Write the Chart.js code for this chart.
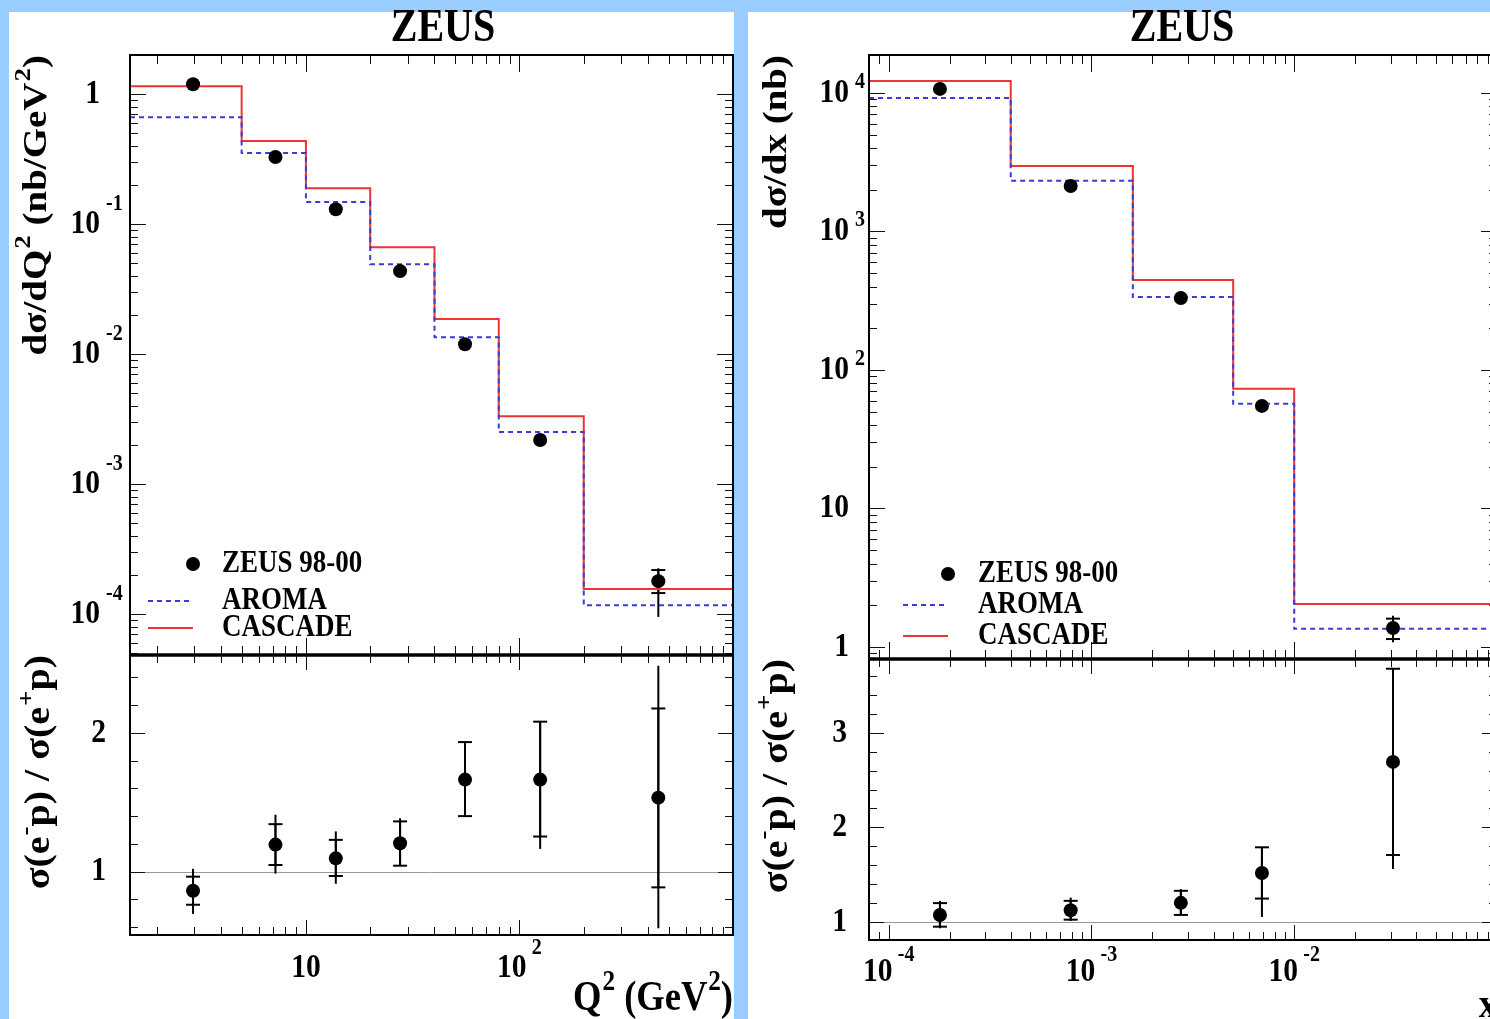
<!DOCTYPE html>
<html><head><meta charset="utf-8">
<script src="https://cdn.jsdelivr.net/npm/chart.js@4.4.1/dist/chart.umd.min.js"></script>
<style>
html,body{margin:0;padding:0;width:1490px;height:1019px;overflow:hidden;background:#99ccff;}
.panel{position:absolute;background:#fff;}
canvas{position:absolute;left:0;top:0;}
</style></head><body>
<div class="panel" style="left:9px;top:12px;width:725px;height:1020px"></div>
<div class="panel" style="left:748px;top:12px;width:780px;height:1020px"></div>
<canvas id="cQ2top" width="1520" height="1019"></canvas>
<canvas id="cQ2ratio" width="1520" height="1019"></canvas>
<canvas id="cXtop" width="1520" height="1019"></canvas>
<canvas id="cXratio" width="1520" height="1019"></canvas>
<script>
// ================= DATA =================
// Q^2 distribution (left panel)
const q2Edges    = [1.5, 5, 10, 20, 40, 80, 200, 1000];
const q2Centers  = [2.96, 7.2, 13.8, 27.6, 55.6, 125, 447];
const q2Data     = [1.19, 0.328, 0.130, 0.0435, 0.0119, 0.00218, 1.79e-4];
const q2DataStatLo = [null, null, null, null, null, null, 1.45e-4];
const q2DataStatHi = [null, null, null, null, null, null, 2.18e-4];
const q2DataTotLo  = [null, null, null, null, null, null, 9.5e-5];
const q2DataTotHi  = [null, null, null, null, null, null, 2.25e-4];
const q2Aroma    = [0.665, 0.352, 0.148, 0.0492, 0.0135, 0.00251, 1.17e-4];
const q2Cascade  = [1.15, 0.435, 0.189, 0.0665, 0.0186, 0.00333, 1.56e-4];
const q2Ratio       = [0.863, 1.195, 1.096, 1.205, 1.663, 1.663, 1.533];
const q2RatioStatLo = [0.762, 1.048, 0.969, 1.043, 1.400, 1.253, 0.887];
const q2RatioStatHi = [0.964, 1.342, 1.229, 1.362, 1.933, 2.080, 2.175];
const q2RatioTotLo  = [0.696, 0.986, 0.913, 1.043, 1.400, 1.164, 0.593];
const q2RatioTotHi  = [1.020, 1.410, 1.290, 1.385, 1.933, 2.080, 2.482];

// x distribution (right panel)
const xEdges    = [0.00008, 0.0004, 0.0016, 0.005, 0.01, 0.1];
const xCenters  = [1.79e-4, 7.9e-4, 2.76e-3, 6.93e-3, 0.0307];
const xData     = [10700, 2130, 331, 55, 1.37];
const xDataStatLo = [null, null, null, null, 1.14];
const xDataStatHi = [null, null, null, null, 1.60];
const xDataTotLo  = [null, null, null, null, 1.08];
const xDataTotHi  = [null, null, null, null, 1.68];
const xAroma    = [9200, 2320, 336, 56.9, 1.35];
const xCascade  = [12200, 2970, 447, 73, 2.04];
const xRatio       = [1.074, 1.124, 1.202, 1.517, 2.692];
const xRatioStatLo = [0.950, 1.024, 1.074, 1.247, 1.708];
const xRatioStatHi = [1.199, 1.223, 1.329, 1.789, 3.677];
const xRatioTotLo  = [0.933, 1.010, 1.074, 1.053, 1.560];
const xRatioTotHi  = [1.223, 1.258, 1.347, 1.789, 3.677];

// tick labels
const q2TopYTickVals   = [1, 0.1, 0.01, 0.001, 0.0001];
const q2TopYTickLabels = ['1', '10^{-1}', '10^{-2}', '10^{-3}', '10^{-4}'];
const q2RatioYTickVals   = [1, 2];
const q2RatioYTickLabels = ['1', '2'];
const q2XTickVals   = [10, 100];
const q2XTickLabels = ['10', '10^{2}'];
const xTopYTickVals   = [1, 10, 100, 1000, 10000];
const xTopYTickLabels = ['1', '10', '10^{2}', '10^{3}', '10^{4}'];
const xRatioYTickVals   = [1, 2, 3];
const xRatioYTickLabels = ['1', '2', '3'];
const xXTickVals   = [1e-4, 1e-3, 1e-2];
const xXTickLabels = ['10^{-4}', '10^{-3}', '10^{-2}'];

const seriesNames = ['ZEUS 98-00', 'AROMA', 'CASCADE'];
const panelTitle = 'ZEUS';
const q2YTitle = 'dσ/dQ^{2} (nb/GeV^{2})';
const xYTitle = 'dσ/dx (nb)';
const ratioTitle = 'σ(e^{-}p) / σ(e^{+}p)';
const q2XTitle = 'Q^{2} (GeV^{2})';
const xXTitle = 'x';

// ================= STYLE / HELPERS =================
const W = 1520, H = 1019;
const SX = 0.87;
const FONT = '"Liberation Serif","Times New Roman",serif';
const BLUE = '#3b3bd8';
const RED = '#ee3333';

function parseRich(s){
  const segs=[]; const re=/\^\{([^}]*)\}/g; let last=0, m;
  while((m=re.exec(s))){ if(m.index>last) segs.push({t:s.slice(last,m.index),sup:false}); segs.push({t:m[1],sup:true}); last=re.lastIndex; }
  if(last<s.length) segs.push({t:s.slice(last),sup:false});
  return segs;
}
function drawRich(ctx, s, x, y, o){
  const size=o.size, sup=o.supSize||Math.round(size*0.68), rise=(o.rise!=null?o.rise:size*0.42), gap=o.gap||1;
  const segs=parseRich(s);
  ctx.save();
  ctx.translate(x,y);
  if(o.rot){ ctx.rotate(o.rot); ctx.scale(1,SX); } else ctx.scale(SX,1);
  ctx.textBaseline='middle'; ctx.textAlign='left'; ctx.fillStyle='#000';
  let w=0;
  const ws=segs.map(sg=>{ ctx.font=`bold ${sg.sup?sup:size}px ${FONT}`; const ww=ctx.measureText(sg.t).width+(sg.sup?gap:0); w+=ww; return ww; });
  let cx = o.align==='right' ? -w : (o.align==='center' ? -w/2 : 0);
  segs.forEach((sg,i)=>{ ctx.font=`bold ${sg.sup?sup:size}px ${FONT}`; ctx.fillText(sg.t, cx+(sg.sup?gap:0), sg.sup?-rise:0); cx+=ws[i]; });
  ctx.restore();
}
// y label: base right-aligned at xr, exponent after it
function drawYLabel(ctx, s, xr, y, o){
  const segs=parseRich(s);
  const base=segs[0].t, exp=segs[1]?segs[1].t:null;
  ctx.save(); ctx.translate(xr,y); ctx.scale(SX,1);
  ctx.textBaseline='middle'; ctx.fillStyle='#000';
  ctx.font=`bold ${o.size}px ${FONT}`; ctx.textAlign='right'; ctx.fillText(base, 0, 0);
  if(exp!=null){ ctx.font=`bold ${o.supSize}px ${FONT}`; ctx.textAlign='left'; ctx.fillText(exp, o.gap/SX, -o.rise); }
  ctx.restore();
}
function logTicks(min,max){
  const out=[];
  for(let n=Math.floor(Math.log10(min))-1;n<=Math.ceil(Math.log10(max));n++){
    for(let k=1;k<=9;k++){ const v=k*Math.pow(10,n); if(v>=min*0.9999 && v<=max*1.0001) out.push({v, major:k===1}); }
  }
  return out;
}
function linTicks(min,max,step){
  const out=[];
  for(let i=Math.ceil(min/step-1e-9); i*step<=max+1e-9; i++){ const v=i*step; out.push({v, major:Math.abs(v-Math.round(v))<1e-6}); }
  return out;
}
function stepData(edges, vals){ return edges.map((e,i)=>({x:e, y:vals[Math.min(i, vals.length-1)]})); }
function pts(xs, ys){ return xs.map((x,i)=>({x, y:ys[i]})); }

function rootPlugin(spec){
  return {
    id:'root_'+spec.name,
    beforeDatasetsDraw(chart){
      const ctx=chart.ctx, a=chart.chartArea, xs=chart.scales.x, ys=chart.scales.y;
      ctx.save();
      if(spec.refLine!=null){
        const py=Math.round(ys.getPixelForValue(spec.refLine))+0.5;
        ctx.strokeStyle='#9a9a9a'; ctx.lineWidth=1;
        ctx.beginPath(); ctx.moveTo(a.left,py); ctx.lineTo(a.right,py); ctx.stroke();
      }
      if(spec.errs){
        const e=spec.errs; ctx.strokeStyle='#000'; ctx.lineWidth=2;
        e.x.forEach((xv,i)=>{
          if(e.totLo[i]==null) return;
          const px=xs.getPixelForValue(xv);
          ctx.beginPath(); ctx.moveTo(px, ys.getPixelForValue(e.totLo[i])); ctx.lineTo(px, ys.getPixelForValue(e.totHi[i])); ctx.stroke();
          ctx.beginPath(); ctx.moveTo(px, ys.getPixelForValue(e.statLo[i])); ctx.lineTo(px, ys.getPixelForValue(e.statHi[i])); ctx.stroke();
          [e.statLo[i], e.statHi[i]].forEach(v=>{ const py=ys.getPixelForValue(v); ctx.beginPath(); ctx.moveTo(px-7,py); ctx.lineTo(px+7,py); ctx.stroke(); });
        });
      }
      ctx.restore();
    },
    afterDraw(chart){
      const ctx=chart.ctx, a=chart.chartArea, xs=chart.scales.x, ys=chart.scales.y;
      ctx.save();
      // ticks
      ctx.strokeStyle='#111'; ctx.lineWidth=1;
      const xt = spec.xType==='logarithmic' ? logTicks(spec.xMin,spec.xMax) : linTicks(spec.xMin,spec.xMax,spec.xStep);
      const yt = spec.yType==='logarithmic' ? logTicks(spec.yMin,spec.yMax) : linTicks(spec.yMin,spec.yMax,spec.yStep);
      ctx.beginPath();
      xt.forEach(t=>{ const px=Math.round(xs.getPixelForValue(t.v))+0.5; const L=t.major?spec.tx[0]:spec.tx[1];
        ctx.moveTo(px,a.bottom); ctx.lineTo(px,a.bottom-L); ctx.moveTo(px,a.top); ctx.lineTo(px,a.top+L); });
      yt.forEach(t=>{ const py=Math.round(ys.getPixelForValue(t.v))+0.5; const L=t.major?spec.ty[0]:spec.ty[1];
        ctx.moveTo(a.left,py); ctx.lineTo(a.left+L,py); ctx.moveTo(a.right,py); ctx.lineTo(a.right-L,py); });
      ctx.stroke();
      // frame
      ctx.strokeStyle='#000'; ctx.lineWidth=2;
      ctx.strokeRect(a.left, a.top, a.right-a.left, a.bottom-a.top);
      if(spec.thickBottom){ ctx.lineWidth=3.5; ctx.beginPath(); ctx.moveTo(a.left-1,a.bottom); ctx.lineTo(a.right+1,a.bottom); ctx.stroke(); }
      // y labels
      if(spec.yLabels){ const L=spec.yLabels; L.vals.forEach((v,i)=>drawYLabel(ctx, L.texts[i], a.left-L.off, ys.getPixelForValue(v), L)); }
      // x labels
      if(spec.xLabels){ const L=spec.xLabels; L.vals.forEach((v,i)=>drawRich(ctx, L.texts[i], xs.getPixelForValue(v), a.bottom+L.off, {size:L.size, supSize:L.supSize, rise:L.rise, gap:L.gap, align:'center'})); }
      // texts
      (spec.texts||[]).forEach(t=>drawRich(ctx, t.t, t.x, t.y, t));
      // legend
      if(spec.legend){
        const lg=spec.legend, dsets=chart.data.datasets;
        lg.rows.forEach((y,i)=>{
          const ds=dsets[i];
          if(ds.showLine===false){
            ctx.fillStyle=ds.pointBackgroundColor; ctx.beginPath(); ctx.arc(lg.x1, y, ds.pointRadius, 0, Math.PI*2); ctx.fill();
          } else {
            ctx.save(); ctx.strokeStyle=ds.borderColor; ctx.lineWidth=ds.borderWidth; ctx.setLineDash(ds.borderDash||[]);
            ctx.beginPath(); ctx.moveTo(lg.x0,y); ctx.lineTo(lg.x1,y); ctx.stroke(); ctx.restore();
          }
          drawRich(ctx, ds.label, lg.tx, y, {size:lg.size, align:'left'});
        });
      }
      ctx.restore();
    }
  };
}

function makeChart(id, spec, datasets){
  const a=spec.area;
  return new Chart(document.getElementById(id), {
    type:'line',
    data:{datasets},
    options:{
      responsive:false, animation:false, devicePixelRatio:1, events:[],
      layout:{autoPadding:false, padding:{left:a.l, top:a.t, right:W-a.r, bottom:H-a.b}},
      scales:{
        x:{type:spec.xType, min:spec.xMin, max:spec.xMax, display:false, bounds:'data'},
        y:{type:spec.yType, min:spec.yMin, max:spec.yMax, display:false, bounds:'data'}
      },
      plugins:{legend:{display:false}, tooltip:{enabled:false}, title:{display:false}}
    },
    plugins:[rootPlugin(spec)]
  });
}
function dataSet(xv, yv){ return {label:seriesNames[0], data:pts(xv,yv), showLine:false, pointRadius:7, pointHoverRadius:7, pointBackgroundColor:'#000', pointBorderWidth:0, borderColor:'#000'}; }
function aromaSet(edges, v){ return {label:seriesNames[1], data:stepData(edges,v), stepped:'before', borderColor:BLUE, borderWidth:2, borderDash:[5,4], pointRadius:0, fill:false}; }
function cascadeSet(edges, v){ return {label:seriesNames[2], data:stepData(edges,v), stepped:'before', borderColor:RED, borderWidth:2, pointRadius:0, fill:false}; }

// ================= LEFT PANEL =================
makeChart('cQ2top', {
  name:'q2top', area:{l:130,t:55,r:733,b:655},
  xType:'logarithmic', xMin:1.5, xMax:1000, yType:'logarithmic', yMin:4.84e-5, yMax:2.0,
  tx:[17,9], ty:[16,8], thickBottom:true,
  errs:{x:q2Centers, statLo:q2DataStatLo, statHi:q2DataStatHi, totLo:q2DataTotLo, totHi:q2DataTotHi},
  yLabels:{vals:q2TopYTickVals, texts:q2TopYTickLabels, off:30, size:34, supSize:23, rise:20, gap:6},
  texts:[
    {t:panelTitle, x:443, y:29, size:46, align:'center'},
    {t:q2YTitle, x:37, y:55, size:39, align:'right', rot:-Math.PI/2, rise:15}
  ],
  legend:{rows:[564,601,628], x0:148, x1:193, tx:222, size:31}
}, [dataSet(q2Centers,q2Data), aromaSet(q2Edges,q2Aroma), cascadeSet(q2Edges,q2Cascade)]);

makeChart('cQ2ratio', {
  name:'q2ratio', area:{l:130,t:655,r:733,b:935},
  xType:'logarithmic', xMin:1.5, xMax:1000, yType:'linear', yMin:0.544, yMax:2.56, yStep:0.2,
  tx:[15,8], ty:[15,8], refLine:1,
  errs:{x:q2Centers, statLo:q2RatioStatLo, statHi:q2RatioStatHi, totLo:q2RatioTotLo, totHi:q2RatioTotHi},
  yLabels:{vals:q2RatioYTickVals, texts:q2RatioYTickLabels, off:24, size:34, supSize:23, rise:20, gap:6},
  xLabels:{vals:q2XTickVals, texts:q2XTickLabels, off:33, size:34, supSize:23, rise:20, gap:6},
  texts:[
    {t:ratioTitle, x:40, y:655, size:40, align:'right', rot:-Math.PI/2, rise:15},
    {t:q2XTitle, x:733, y:999, size:42, align:'right', rise:16}
  ]
}, [dataSet(q2Centers,q2Ratio)]);

// ================= RIGHT PANEL =================
makeChart('cXtop', {
  name:'xtop', area:{l:869,t:55,r:1497,b:659},
  xType:'logarithmic', xMin:0.00008, xMax:0.1, yType:'logarithmic', yMin:0.818, yMax:18800,
  tx:[17,9], ty:[16,8], thickBottom:true,
  errs:{x:xCenters, statLo:xDataStatLo, statHi:xDataStatHi, totLo:xDataTotLo, totHi:xDataTotHi},
  yLabels:{vals:xTopYTickVals, texts:xTopYTickLabels, off:20, size:34, supSize:23, rise:11, gap:6},
  texts:[
    {t:panelTitle, x:1182, y:29, size:46, align:'center'},
    {t:xYTitle, x:777, y:55, size:39, align:'right', rot:-Math.PI/2, rise:15}
  ],
  legend:{rows:[574,605,636], x0:903, x1:948, tx:978, size:31}
}, [dataSet(xCenters,xData), aromaSet(xEdges,xAroma), cascadeSet(xEdges,xCascade)]);

makeChart('cXratio', {
  name:'xratio', area:{l:869,t:659,r:1497,b:940},
  xType:'logarithmic', xMin:0.00008, xMax:0.1, yType:'linear', yMin:0.809, yMax:3.78, yStep:0.2,
  tx:[15,8], ty:[15,8], refLine:1,
  errs:{x:xCenters, statLo:xRatioStatLo, statHi:xRatioStatHi, totLo:xRatioTotLo, totHi:xRatioTotHi},
  yLabels:{vals:xRatioYTickVals, texts:xRatioYTickLabels, off:22, size:34, supSize:23, rise:20, gap:6},
  xLabels:{vals:xXTickVals, texts:xXTickLabels, off:32, size:34, supSize:23, rise:17, gap:6},
  texts:[
    {t:ratioTitle, x:778, y:659, size:40, align:'right', rot:-Math.PI/2, rise:15},
    {t:xXTitle, x:1497, y:1006, size:42, align:'right'}
  ]
}, [dataSet(xCenters,xRatio)]);
</script>
</body></html>
